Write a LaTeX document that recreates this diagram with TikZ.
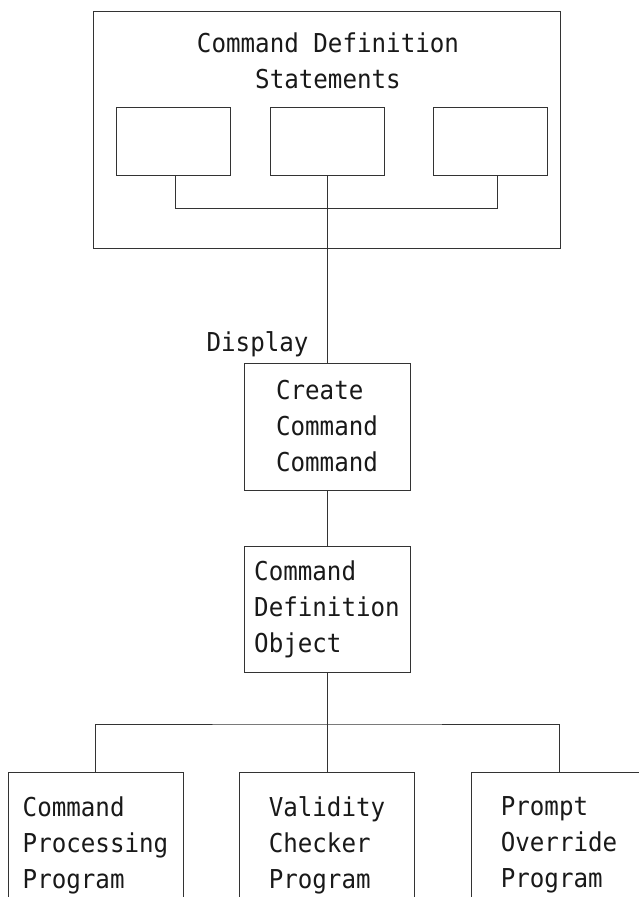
\documentclass[tikz,border=0pt]{standalone}
\usepackage{fontspec}
\setmonofont{DejaVu Sans Mono}[FakeStretch = 0.93]
\usetikzlibrary{positioning}

\begin{document}
\begin{tikzpicture}[x = 1pt, y = -1pt, line width = 1pt, draw = black!80,
		box/.style = {draw = black!80, inner sep = 0pt},
		words/.style = {font = \ttfamily\fontsize{26}{36}\selectfont, text = black!90, align = left, inner sep = 0pt}]
		\clip (0, 0) rectangle (639, 897);
		% statements group
		\node[box, minimum width = 467, minimum height = 237] (stmts) at (326.5, 129.5) {};
		\node[words, align = center, anchor = north] (title) at (328, 32) {Command Definition\\Statements};
		\node[box, minimum width = 114, minimum height = 68] (s1) at (173, 141) {};
		\node[box, minimum width = 114, minimum height = 68] (s2) at (327, 141) {};
		\node[box, minimum width = 114, minimum height = 68] (s3) at (490, 141) {};
		\draw ([xshift = 2]s1.south) -- ++(0, 33) -| ([xshift = 7]s3.south);
		% create command
		\node[box, words, minimum width = 166, minimum height = 127] (create) at (327, 426.5) {Create\\Command\\Command};
		\node[words, anchor = base east] (disp) at (309, 351) {Display};
		\draw (s2.south) -- (create.north);
		\node[box, words, minimum width = 166, minimum height = 126] (cdo) at (327, 609) {Command\\Definition\\Object};
		\draw (create) -- (cdo);
		% programs
		\node[box, words, minimum width = 175, minimum height = 145, anchor = north] (p1) at (95.5, 772) {Command\\Processing\\Program};
		\node[box, words, minimum width = 175, minimum height = 145, anchor = north] (p2) at (327, 772) {Validity\\Checker\\Program};
		\node[box, words, minimum width = 175, minimum height = 145, anchor = north] (p3) at (559, 772) {Prompt\\Override\\Program};
		\coordinate (split) at (327, 724);
		\draw (cdo) -- (p2);
		\draw (p1.north) |- (split) -| (p3.north);
\end{tikzpicture}
\end{document}
